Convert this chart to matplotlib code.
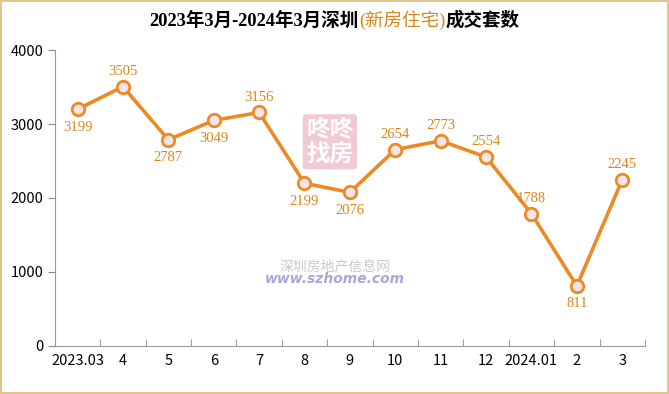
import numpy as np
import matplotlib
matplotlib.use('Agg')
import matplotlib.pyplot as plt
from matplotlib.ticker import FixedLocator

plt.rcParams['font.family'] = ['Liberation Sans Narrow', 'Noto Sans CJK SC', 'DejaVu Sans']

months = ['2023.03', '4', '5', '6', '7', '8', '9', '10', '11', '12', '2024.01', '2', '3']
deals = [3199, 3505, 2787, 3049, 3156, 2199, 2076, 2654, 2773, 2554, 1788, 811, 2245]
label_below = [True, False, True, True, False, True, True, False, False, False, False, True, False]

line_color = '#EC8A24'
label_color = '#D9861C'

fig = plt.figure(figsize=(6.69, 3.94), dpi=100)
fig.patch.set_edgecolor('#E2C48E')
fig.patch.set_linewidth(1.5)
ax = fig.add_axes([0.082, 0.122, 0.882, 0.751])

x = np.arange(len(months))
ax.plot(x, deals, color=line_color, lw=2.6, marker='o', ms=9,
        mfc='#F2E6EC', mec=line_color, mew=2, zorder=3)

for xi, v, below in zip(x, deals, label_below):
    dy = -13 if below else 11
    ax.annotate(str(v), (xi, v), xytext=(0, dy), textcoords='offset points',
                ha='center', va='center', fontsize=10.5, color=label_color,
                family=['Liberation Serif', 'DejaVu Serif'])

# watermark
ax.text(0.466, 0.69, '咚咚\n找房', transform=ax.transAxes, ha='center', va='center',
        fontsize=17, color='white', fontweight='bold', linespacing=1.0,
        family=['Noto Sans CJK SC'], zorder=1,
        bbox=dict(boxstyle='round,pad=0.15', fc='#EBB5BE', ec='none', alpha=0.7))
ax.text(0.475, 0.27, '深圳房地产信息网', transform=ax.transAxes, ha='center', va='center',
        fontsize=10, color='#C8C8D0', style='italic', family=['Noto Sans CJK SC'], zorder=1)
ax.text(0.475, 0.225, 'www.szhome.com', transform=ax.transAxes, ha='center', va='center',
        fontsize=10, color='#A8A8D8', style='italic', fontweight='bold',
        family=['DejaVu Sans'], zorder=1)

ax.set_xlim(-0.5, len(months) - 0.5)
ax.set_ylim(0, 4000)
ax.set_yticks([0, 1000, 2000, 3000, 4000])
ax.set_xticks(x)
ax.set_xticklabels(months)
ax.xaxis.set_minor_locator(FixedLocator(np.arange(len(months) + 1) - 0.5))
ax.tick_params(axis='x', which='major', length=0, pad=6, labelsize=10.5)
ax.tick_params(axis='x', which='minor', length=5, direction='in', color='#888888')
ax.tick_params(axis='y', length=5, color='#888888', labelsize=10.5, pad=3)
for s in ['top', 'right']:
    ax.spines[s].set_visible(False)
for s in ['left', 'bottom']:
    ax.spines[s].set_color('#999999')

# title in three pieces, placed one after another
parts = [('2023年3月-2024年3月深圳', 'black', 'bold'),
         ('(新房住宅)', label_color, 'normal'),
         ('成交套数', 'black', 'bold')]
renderer = fig.canvas.get_renderer()
texts = []
for s, c, w in parts:
    t = fig.text(0, 0.948, s, ha='left', va='center', fontsize=13.3, color=c,
                 fontweight=w, family=['Liberation Serif', 'Noto Sans CJK SC'])
    texts.append(t)
widths = [t.get_window_extent(renderer).width for t in texts]
x0 = (fig.bbox.width - sum(widths)) / 2
for t, w in zip(texts, widths):
    t.set_x(x0 / fig.bbox.width)
    x0 += w

fig.savefig('out.png', dpi=100, edgecolor=fig.get_edgecolor())
